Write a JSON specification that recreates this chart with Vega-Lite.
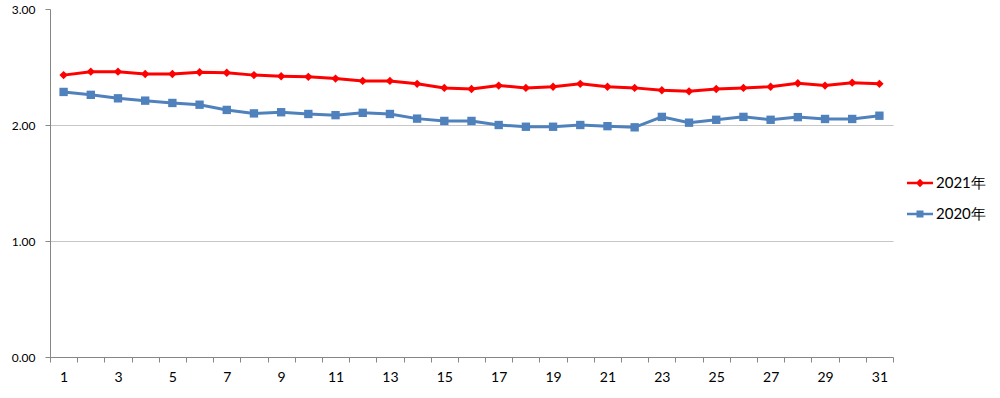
{
  "$schema": "https://vega.github.io/schema/vega-lite/v6.json",
  "width": 843,
  "height": 348,
  "autosize": {"type": "none"},
  "padding": {"left": 50, "top": 9, "right": 107, "bottom": 41},
  "background": "#ffffff",
  "config": {
    "view": {"stroke": null},
    "font": "Lato",
    "axis": {"labelFont": "Lato", "labelColor": "#000000", "domainColor": "#868686", "tickColor": "#868686", "title": null},
    "legend": {
      "orient": "none", "legendX": 857, "legendY": 161,
      "title": null, "padding": 0,
      "symbolSize": 676, "symbolOpacity": 1, "symbolStrokeWidth": 0,
      "labelFont": "Lato", "labelFontSize": 15, "labelColor": "#000000",
      "labelOffset": 3, "rowPadding": 10
    }
  },
  "data": {
    "values": [
      {"day": 1, "series": "2021年", "value": 2.43},
      {"day": 2, "series": "2021年", "value": 2.46},
      {"day": 3, "series": "2021年", "value": 2.46},
      {"day": 4, "series": "2021年", "value": 2.44},
      {"day": 5, "series": "2021年", "value": 2.44},
      {"day": 6, "series": "2021年", "value": 2.455},
      {"day": 7, "series": "2021年", "value": 2.45},
      {"day": 8, "series": "2021年", "value": 2.43},
      {"day": 9, "series": "2021年", "value": 2.42},
      {"day": 10, "series": "2021年", "value": 2.415},
      {"day": 11, "series": "2021年", "value": 2.40},
      {"day": 12, "series": "2021年", "value": 2.38},
      {"day": 13, "series": "2021年", "value": 2.38},
      {"day": 14, "series": "2021年", "value": 2.355},
      {"day": 15, "series": "2021年", "value": 2.32},
      {"day": 16, "series": "2021年", "value": 2.31},
      {"day": 17, "series": "2021年", "value": 2.34},
      {"day": 18, "series": "2021年", "value": 2.32},
      {"day": 19, "series": "2021年", "value": 2.33},
      {"day": 20, "series": "2021年", "value": 2.355},
      {"day": 21, "series": "2021年", "value": 2.33},
      {"day": 22, "series": "2021年", "value": 2.32},
      {"day": 23, "series": "2021年", "value": 2.30},
      {"day": 24, "series": "2021年", "value": 2.29},
      {"day": 25, "series": "2021年", "value": 2.31},
      {"day": 26, "series": "2021年", "value": 2.32},
      {"day": 27, "series": "2021年", "value": 2.33},
      {"day": 28, "series": "2021年", "value": 2.36},
      {"day": 29, "series": "2021年", "value": 2.34},
      {"day": 30, "series": "2021年", "value": 2.365},
      {"day": 31, "series": "2021年", "value": 2.355},
      {"day": 1, "series": "2020年", "value": 2.285},
      {"day": 2, "series": "2020年", "value": 2.26},
      {"day": 3, "series": "2020年", "value": 2.23},
      {"day": 4, "series": "2020年", "value": 2.21},
      {"day": 5, "series": "2020年", "value": 2.19},
      {"day": 6, "series": "2020年", "value": 2.175},
      {"day": 7, "series": "2020年", "value": 2.13},
      {"day": 8, "series": "2020年", "value": 2.10},
      {"day": 9, "series": "2020年", "value": 2.11},
      {"day": 10, "series": "2020年", "value": 2.095},
      {"day": 11, "series": "2020年", "value": 2.085},
      {"day": 12, "series": "2020年", "value": 2.105},
      {"day": 13, "series": "2020年", "value": 2.095},
      {"day": 14, "series": "2020年", "value": 2.055},
      {"day": 15, "series": "2020年", "value": 2.035},
      {"day": 16, "series": "2020年", "value": 2.035},
      {"day": 17, "series": "2020年", "value": 2.00},
      {"day": 18, "series": "2020年", "value": 1.985},
      {"day": 19, "series": "2020年", "value": 1.985},
      {"day": 20, "series": "2020年", "value": 2.00},
      {"day": 21, "series": "2020年", "value": 1.99},
      {"day": 22, "series": "2020年", "value": 1.98},
      {"day": 23, "series": "2020年", "value": 2.07},
      {"day": 24, "series": "2020年", "value": 2.02},
      {"day": 25, "series": "2020年", "value": 2.045},
      {"day": 26, "series": "2020年", "value": 2.07},
      {"day": 27, "series": "2020年", "value": 2.045},
      {"day": 28, "series": "2020年", "value": 2.068},
      {"day": 29, "series": "2020年", "value": 2.052},
      {"day": 30, "series": "2020年", "value": 2.052},
      {"day": 31, "series": "2020年", "value": 2.08}
    ]
  },
  "encoding": {
    "x": {
      "field": "day", "type": "quantitative",
      "scale": {"domain": [0.5, 31.5], "nice": false, "zero": false},
      "axis": {
        "values": [0.5,1.5,2.5,3.5,4.5,5.5,6.5,7.5,8.5,9.5,10.5,11.5,12.5,13.5,14.5,15.5,16.5,17.5,18.5,19.5,20.5,21.5,22.5,23.5,24.5,25.5,26.5,27.5,28.5,29.5,30.5,31.5],
        "labelExpr": "((datum.value + 0.5) % 2 == 1 && datum.value < 31) ? format(datum.value + 0.5, 'd') : ''",
        "labelOffset": 13.6,
        "labelFlush": false,
        "labelOverlap": false,
        "labelFontSize": 14,
        "labelPadding": 8,
        "tickSize": 5,
        "grid": false
      }
    },
    "y": {
      "field": "value", "type": "quantitative",
      "scale": {"domain": [0, 3], "nice": false},
      "axis": {
        "values": [0, 1, 2, 3],
        "format": ".2f",
        "labelFontSize": 12,
        "labelPadding": 10,
        "tickSize": 5,
        "grid": true,
        "gridColor": "#C6C6C6",
        "gridOpacity": {"condition": {"test": "datum.value == 3 || datum.value == 0", "value": 0}, "value": 1}
      }
    },
    "color": {
      "field": "series", "type": "nominal",
      "scale": {"domain": ["2021年", "2020年"], "range": ["#FF0000", "#4F81BD"]}
    }
  },
  "layer": [
    {
      "mark": {"type": "line", "strokeWidth": 3},
      "encoding": {"detail": {"field": "series"}}
    },
    {
      "transform": [{"filter": "datum.series == '2021年'"}],
      "mark": {"type": "point", "shape": "diamond", "filled": true, "size": 70, "opacity": 1}
    },
    {
      "transform": [{"filter": "datum.series == '2020年'"}],
      "mark": {"type": "point", "shape": "square", "filled": true, "size": 70, "opacity": 1}
    },
    {
      "mark": {"type": "point", "filled": true, "opacity": 0},
      "encoding": {
        "shape": {
          "field": "series", "type": "nominal",
          "scale": {"domain": ["2021年", "2020年"], "range": ["M-1,-0.1H1V0.1H-1Z M0,-0.32L0.32,0L0,0.32L-0.32,0Z", "M-1,-0.1H1V0.1H-1Z M-0.27,-0.27H0.27V0.27H-0.27Z"]}
        }
      }
    }
  ]
}
